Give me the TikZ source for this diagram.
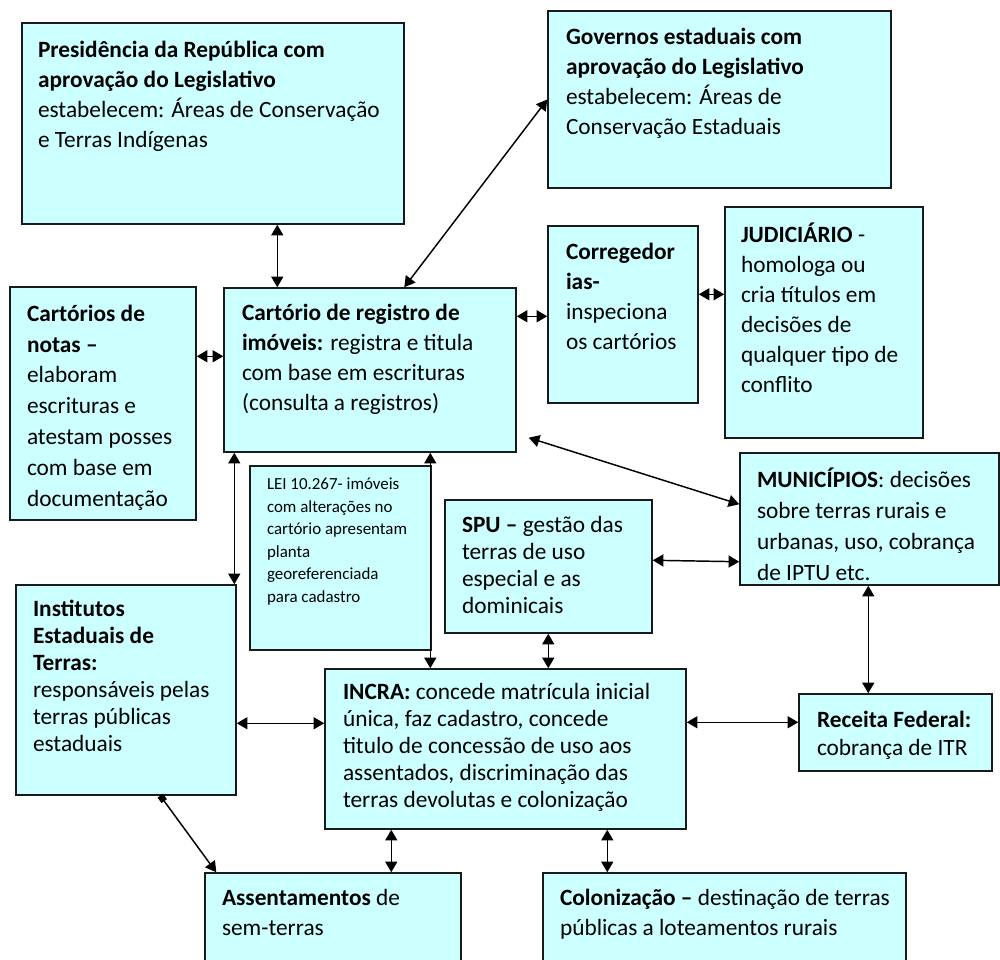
\documentclass[tikz,border=0pt]{standalone}
\usepackage{fontspec}
\setmainfont{Carlito}
\usetikzlibrary{positioning,arrows.meta,calc,fit}
\definecolor{ciano}{HTML}{CCFFFF}
\definecolor{borda}{HTML}{1A1A1A}

\begin{document}
\begin{tikzpicture}[x=0.75pt, y=-0.75pt, font=\fontsize{17.5}{22.5}\selectfont,
      >={Triangle[length=8pt,width=9pt]}, line width=1.1pt,
      caixa/.style={draw=borda, fill=ciano, line width=1.1pt, inner sep=0pt},
      texto/.style={anchor=north west, inner sep=0pt, align=left,
                    execute at begin node=\strut},
      miudo/.style={texto, font=\fontsize{12.7}{16.9}\selectfont}]
    \useasboundingbox (0,0) rectangle (1000,960);
    % caixas
    \node[caixa, fit={(22,23) (404,224)}]   (pres)   {};
    \node[caixa, fit={(548,11) (891,188)}]  (gov)    {};
    \node[caixa, fit={(10,287) (196,520)}]  (notas)  {};
    \node[caixa, fit={(224,288) (516,452)}] (reg)    {};
    \node[caixa, fit={(548,226) (698,403)}] (corr)   {};
    \node[caixa, fit={(725,207) (923,438)}] (jud)    {};
    \node[caixa, fit={(250,466) (431,650)}] (lei)    {};
    \node[caixa, fit={(740,453) (999,585)}] (mun)    {};
    \node[caixa, fit={(445,500) (652,633)}] (spu)    {};
    \node[caixa, fit={(16,585) (236,795)}]  (inst)   {};
    \node[caixa, fit={(325,669) (686,829)}] (incra)  {};
    \node[caixa, fit={(799,694) (992,771)}] (rf)     {};
    \node[caixa, fit={(205,873) (461,980)}] (assent) {};
    \node[caixa, fit={(543,873) (906,980)}] (colon)  {};
    % textos
    \node[texto] (pres-t) at ($(pres.north west)+(16,18)$)
      {\textbf{Presidência da República com}\\\textbf{aprovação do Legislativo}\\estabelecem: Áreas de Conservação\\e Terras Indígenas};
    \node[texto] (gov-t) at ($(gov.north west)+(18,17)$)
      {\textbf{Governos estaduais com}\\\textbf{aprovação do Legislativo}\\estabelecem: Áreas de\\Conservação Estaduais};
    \node[texto, font=\fontsize{17.5}{23.1}\selectfont] (notas-t) at ($(notas.north west)+(17,18)$)
      {\textbf{Cartórios de}\\\textbf{notas –}\\elaboram\\escrituras e\\atestam posses\\com base em\\documentação};
    \node[texto] (reg-t) at ($(reg.north west)+(18,16)$)
      {\textbf{Cartório de registro de}\\\textbf{imóveis:} registra e titula\\com base em escrituras\\(consulta a registros)};
    \node[texto] (corr-t) at ($(corr.north west)+(18,17)$)
      {\textbf{Corregedor}\\\textbf{ias-}\\inspeciona\\os cartórios};
    \node[texto] (jud-t) at ($(jud.north west)+(16,16)$)
      {\textbf{JUDICIÁRIO} -\\homologa ou\\cria títulos em\\decisões de\\qualquer tipo de\\conflito};
    \node[miudo] (lei-t) at ($(lei.north west)+(17,12)$)
      {LEI 10.267- imóveis\\com alterações no\\cartório apresentam\\planta\\georeferenciada\\para cadastro};
    \node[texto, font=\fontsize{17.5}{23.25}\selectfont] (mun-t) at ($(mun.north west)+(17,15)$)
      {\textbf{MUNICÍPIOS}: decisões\\sobre terras rurais e\\urbanas, uso, cobrança\\de IPTU etc.};
    \node[texto, font=\fontsize{17.5}{20.25}\selectfont] (spu-t) at ($(spu.north west)+(17,16)$)
      {\textbf{SPU –} gestão das\\terras de uso\\especial e as\\dominicais};
    \node[texto, font=\fontsize{17.5}{20.25}\selectfont] (inst-t) at ($(inst.north west)+(17,15)$)
      {\textbf{Institutos}\\\textbf{Estaduais de}\\\textbf{Terras:}\\responsáveis pelas\\terras públicas\\estaduais};
    \node[texto, font=\fontsize{17.5}{20.25}\selectfont] (incra-t) at ($(incra.north west)+(18,14)$)
      {\textbf{INCRA:} concede matrícula inicial\\única, faz cadastro, concede\\titulo de concessão de uso aos\\assentados, discriminação das\\terras devolutas e colonização};
    \node[texto, font=\fontsize{17.5}{21}\selectfont] (rf-t) at ($(rf.north west)+(18,17)$)
      {\textbf{Receita Federal:}\\cobrança de ITR};
    \node[texto] (assent-t) at ($(assent.north west)+(17,16)$)
      {\textbf{Assentamentos} de\\sem-terras};
    \node[texto] (colon-t) at ($(colon.north west)+(17,16)$)
      {\textbf{Colonização –} destinação de terras\\públicas a loteamentos rurais};
    % conexoes
    \draw[<->] ($(pres.south west)+(256,0)$) -- ($(reg.north west)+(54,0)$);
    \draw[<->] (gov.west) -- ($(reg.north west)+(181,0)$);
    \draw[<->] ($(notas.north east)+(0,70)$) -- ($(reg.north west)+(0,69)$);
    \draw[<->] ($(reg.north east)+(0,29)$) -- ($(corr.north west)+(0,91)$);
    \draw[<->] ($(corr.north east)+(0,69)$) -- ($(jud.north west)+(0,88)$);
    \draw[<->] ($(reg.south east)+(12,-15)$) -- ($(mun.north west)+(0,52)$);
    \draw[<->] ($(reg.south west)+(11,0)$) -- ($(inst.north west)+(219,0)$);
    \draw[<->] ($(reg.south west)+(207,0)$) -- ($(incra.north west)+(106,0)$);
    \draw[<->] ($(spu.north east)+(0,61)$) -- ($(mun.south west)+(0,-24)$);
    \draw[<->] ($(spu.south west)+(104,0)$) -- ($(incra.north west)+(224,0)$);
    \draw[<->] ($(mun.south west)+(129,0)$) -- ($(rf.north west)+(70,0)$);
    \draw[<->] ($(inst.north east)+(0,139)$) -- ($(incra.north west)+(0,55)$);
    \draw[<->] ($(incra.north east)+(0,54)$) -- ($(rf.north west)+(0,29)$);
    \draw[{Square[length=5pt,width=5pt]}->] ($(inst.south west)+(145,0)$) -- ($(assent.north west)+(12,0)$);
    \draw[<->] ($(incra.south west)+(67,0)$) -- ($(assent.north west)+(187,0)$);
    \draw[<->] ($(incra.south west)+(283,0)$) -- ($(colon.north west)+(65,0)$);
\end{tikzpicture}
\end{document}
